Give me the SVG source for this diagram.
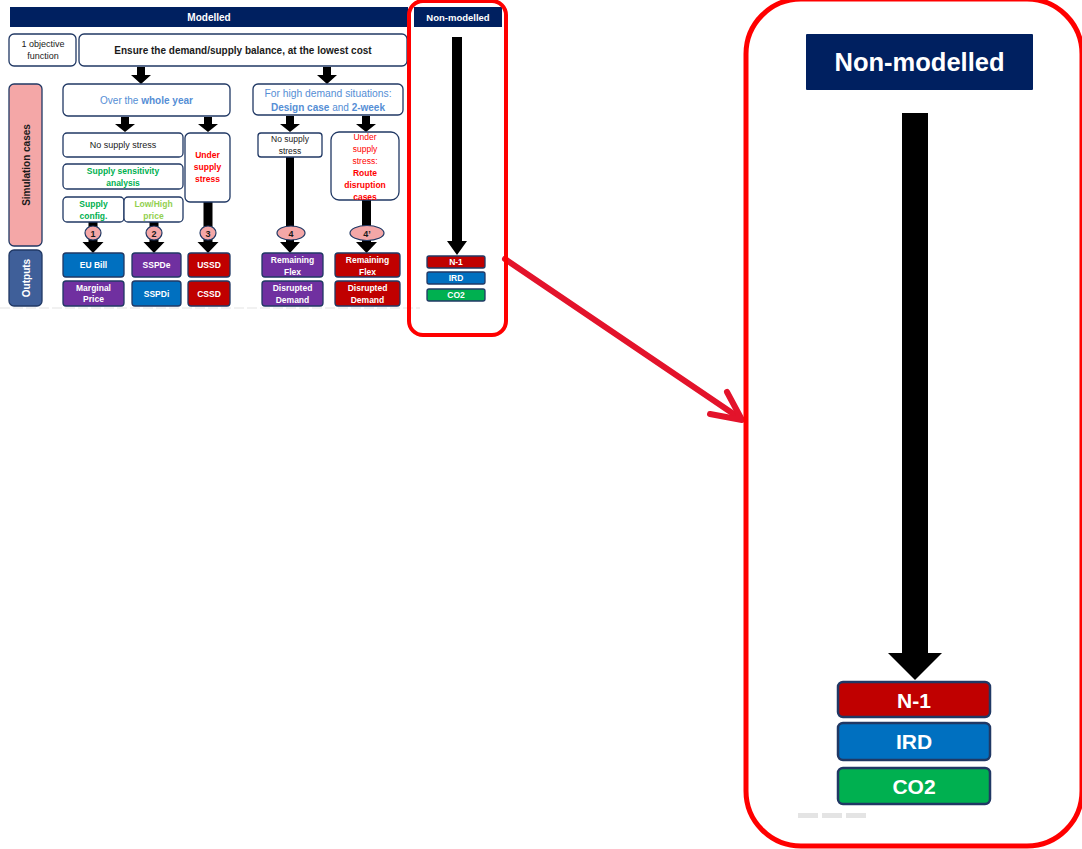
<svg xmlns="http://www.w3.org/2000/svg" width="1082" height="849" viewBox="0 0 1082 849">
  <style>
    text { font-family: "Liberation Sans", Arial, sans-serif; text-anchor: middle; }
    .hdr { fill: #002060; }
    .hdrt { fill: #ffffff; font-weight: bold; }
    .box { fill: #ffffff; stroke: #203864; stroke-width: 1.3; }
    .dark { fill: #1a1a1a; }
    .lb { fill: #558ED5; }
    .b { font-weight: bold; }
    .grn { fill: #00B050; font-weight: bold; }
    .lgrn { fill: #92D050; font-weight: bold; }
    .red { fill: #FF0000; }
    .num { fill: #F4A7A7; stroke: #203864; stroke-width: 1.2; }
    .out { stroke: #203864; stroke-width: 1.3; }
    .blue { fill: #0070C0; }
    .purple { fill: #7030A0; }
    .crim { fill: #C00000; }
    .green { fill: #00B050; }
    .ot { fill: #ffffff; font-weight: bold; font-size: 8.5px; }
    .arr { fill: #000000; }
    .frame { fill: none; stroke: #FF0000; }
  </style>

  <!-- headers -->
  <g id="hdr-modelled">
    <rect class="hdr" x="10" y="7" width="398" height="20"/>
    <text class="hdrt" x="209" y="21" font-size="10">Modelled</text>
  </g>
  <g id="hdr-nonmodelled">
    <rect class="hdr" x="414" y="7" width="88" height="20"/>
    <text class="hdrt" x="458" y="21" font-size="9.5">Non-modelled</text>
  </g>

  <!-- row labels -->
  <g id="lbl-objective">
    <rect class="box" x="9" y="34" width="67" height="32" rx="5"/>
    <text class="dark" x="43" y="47" font-size="9">1 objective</text>
    <text class="dark" x="43" y="59" font-size="9">function</text>
  </g>
  <g id="lbl-simulation">
    <rect x="9" y="84" width="33" height="162" rx="5" fill="#F4A7A7" stroke="#203864" stroke-width="1.3"/>
    <text class="dark b" font-size="10" transform="translate(29.5 165) rotate(-90)">Simulation cases</text>
  </g>
  <g id="lbl-outputs">
    <rect x="9" y="250" width="33" height="56" rx="5" fill="#3F5F99" stroke="#203864" stroke-width="1.3"/>
    <text fill="#ffffff" class="b" font-size="10" transform="translate(29.5 278) rotate(-90)">Outputs</text>
  </g>

  <!-- objective -->
  <g id="objective">
    <rect class="box" x="79" y="34" width="328" height="32" rx="5"/>
    <text class="dark b" x="243" y="54" font-size="10">Ensure the demand/supply balance, at the lowest cost</text>
  </g>

  <!-- connectors (block arrows) -->
  <g id="connectors">
    <path class="arr" d="M137 67H145V75H151L141 84L131 75H137Z"/>
    <path class="arr" d="M323 67H331V75H337L327 84L317 75H323Z"/>
    <path class="arr" d="M121 117H129V124H135L125 132L115 124H121Z"/>
    <path class="arr" d="M204 117H212V124H218L208 132L198 124H204Z"/>
    <path class="arr" d="M286 116H294V124H300L290 132L280 124H286Z"/>
    <path class="arr" d="M362 116H370V124H376L366 132L356 124H362Z"/>
    <path class="arr" d="M88.5 222H97.5V242H103.5L93 253L82.5 242H88.5Z"/>
    <path class="arr" d="M149.5 222H158.5V242H164.5L154 253L143.5 242H149.5Z"/>
    <path class="arr" d="M203.5 202H212.5V242H218.5L208 253L197.5 242H203.5Z"/>
    <path class="arr" d="M286 157H294V242H300L290 253L280 242H286Z"/>
    <path class="arr" d="M362 200H371V242H377L366.5 253L356 242H362Z"/>
    <path class="arr" d="M452 37H462V241H467L457 255L447 241H452Z"/>
    <path class="arr" d="M902 113H928V653H942L915 680L888 653H902Z"/>
    <!-- call-out arrow to the enlarged view -->
    <g stroke="#E3132B" stroke-width="6" stroke-linecap="round" fill="none">
      <line x1="505" y1="259" x2="741" y2="419"/>
      <polyline points="710,414 742,420 727,392" stroke-linejoin="round"/>
    </g>
  </g>

  <!-- whole year branch -->
  <g id="whole-year">
    <rect class="box" x="63" y="84" width="167" height="32" rx="5"/>
    <text class="lb" x="146.5" y="104" font-size="10">Over the <tspan class="b">whole year</tspan></text>
  </g>
  <g id="no-stress-year">
    <rect class="box" x="63" y="133" width="120" height="24" rx="4"/>
    <text class="dark" x="123" y="148" font-size="9">No supply stress</text>
  </g>
  <g id="sensitivity">
    <rect class="box" x="63" y="164" width="120" height="25" rx="4"/>
    <text class="grn" x="123" y="174" font-size="8.5">Supply sensitivity</text>
    <text class="grn" x="123" y="186" font-size="8.5">analysis</text>
  </g>
  <g id="supply-config">
    <rect class="box" x="63" y="197" width="61" height="25" rx="4"/>
    <text class="grn" x="93.5" y="207" font-size="8.5">Supply</text>
    <text class="grn" x="93.5" y="219" font-size="8.5">config.</text>
  </g>
  <g id="low-high">
    <rect class="box" x="124" y="197" width="59" height="25" rx="4"/>
    <text class="lgrn" x="153.5" y="207" font-size="8.5">Low/High</text>
    <text class="lgrn" x="153.5" y="219" font-size="8.5">price</text>
  </g>
  <g id="under-stress-year">
    <rect class="box" x="185" y="133" width="45" height="69" rx="5"/>
    <text class="red b" x="207.5" y="158" font-size="8.5">Under</text>
    <text class="red b" x="207.5" y="170" font-size="8.5">supply</text>
    <text class="red b" x="207.5" y="182" font-size="8.5">stress</text>
  </g>

  <!-- high demand branch -->
  <g id="high-demand">
    <rect class="box" x="253" y="84" width="150" height="31" rx="5"/>
    <text class="lb" x="328" y="97" font-size="10.3">For high demand situations:</text>
    <text class="lb" x="328" y="111" font-size="10"><tspan class="b">Design case</tspan> and <tspan class="b">2-week</tspan></text>
  </g>
  <g id="no-stress-peak">
    <rect class="box" x="258" y="133" width="64" height="24" rx="3"/>
    <text class="dark" x="290" y="142" font-size="8.5">No supply</text>
    <text class="dark" x="290" y="154" font-size="8.5">stress</text>
  </g>
  <g id="route-disruption">
    <rect class="box" x="331" y="132" width="68" height="68" rx="8"/>
    <text class="red" x="365" y="140" font-size="8.5">Under</text>
    <text class="red" x="365" y="152" font-size="8.5">supply</text>
    <text class="red" x="365" y="164" font-size="8.5">stress:</text>
    <text class="red b" x="365" y="176" font-size="8.5">Route</text>
    <text class="red b" x="365" y="188" font-size="8.5">disruption</text>
    <text class="red b" x="365" y="200" font-size="8.5">cases</text>
  </g>

  <!-- case numbers -->
  <g id="case-1">
    <ellipse class="num" cx="93" cy="233" rx="8" ry="7"/>
    <text class="dark b" x="93" y="236.5" font-size="9">1</text>
  </g>
  <g id="case-2">
    <ellipse class="num" cx="154" cy="233" rx="8" ry="7"/>
    <text class="dark b" x="154" y="236.5" font-size="9">2</text>
  </g>
  <g id="case-3">
    <ellipse class="num" cx="208" cy="233" rx="8" ry="7"/>
    <text class="dark b" x="208" y="236.5" font-size="9">3</text>
  </g>
  <g id="case-4">
    <ellipse class="num" cx="291" cy="233" rx="14" ry="7"/>
    <text class="dark b" x="291" y="236.5" font-size="9">4</text>
  </g>
  <g id="case-4b">
    <ellipse class="num" cx="367" cy="233" rx="17" ry="7.5"/>
    <text class="dark b" x="367" y="236.5" font-size="9">4’</text>
  </g>

  <!-- outputs -->
  <g id="out-eubill">
    <rect class="out blue" x="63" y="253" width="61" height="24" rx="3"/>
    <text class="ot" x="93.5" y="268">EU Bill</text>
  </g>
  <g id="out-marginal">
    <rect class="out purple" x="63" y="281" width="61" height="25" rx="3"/>
    <text class="ot" x="93.5" y="291">Marginal</text>
    <text class="ot" x="93.5" y="302">Price</text>
  </g>
  <g id="out-sspde">
    <rect class="out purple" x="132" y="253" width="49" height="24" rx="3"/>
    <text class="ot" x="156.5" y="268">SSPDe</text>
  </g>
  <g id="out-sspdi">
    <rect class="out blue" x="132" y="281" width="49" height="25" rx="3"/>
    <text class="ot" x="156.5" y="296.5">SSPDi</text>
  </g>
  <g id="out-ussd">
    <rect class="out crim" x="188" y="253" width="42" height="24" rx="3"/>
    <text class="ot" x="209" y="268">USSD</text>
  </g>
  <g id="out-cssd">
    <rect class="out crim" x="188" y="281" width="42" height="25" rx="3"/>
    <text class="ot" x="209" y="296.5">CSSD</text>
  </g>
  <g id="out-flex">
    <rect class="out purple" x="262" y="253" width="61" height="24" rx="3"/>
    <text class="ot" x="292.5" y="263">Remaining</text>
    <text class="ot" x="292.5" y="274.5">Flex</text>
  </g>
  <g id="out-disrupted">
    <rect class="out purple" x="262" y="281" width="61" height="25" rx="3"/>
    <text class="ot" x="292.5" y="291">Disrupted</text>
    <text class="ot" x="292.5" y="302.5">Demand</text>
  </g>
  <g id="out-flex-route">
    <rect class="out crim" x="335" y="253" width="65" height="24" rx="3"/>
    <text class="ot" x="367.5" y="263">Remaining</text>
    <text class="ot" x="367.5" y="274.5">Flex</text>
  </g>
  <g id="out-disrupted-route">
    <rect class="out crim" x="335" y="281" width="65" height="25" rx="3"/>
    <text class="ot" x="367.5" y="291">Disrupted</text>
    <text class="ot" x="367.5" y="302.5">Demand</text>
  </g>

  <!-- non-modelled indicators -->
  <g id="ind-n1">
    <rect class="out crim" x="427" y="256" width="58" height="12" rx="2"/>
    <text class="ot" x="456" y="265" font-size="8">N-1</text>
  </g>
  <g id="ind-ird">
    <rect class="out blue" x="427" y="272" width="58" height="12" rx="2"/>
    <text class="ot" x="456" y="281" font-size="8">IRD</text>
  </g>
  <g id="ind-co2">
    <rect class="out green" x="427" y="289" width="58" height="12" rx="2"/>
    <text class="ot" x="456" y="298" font-size="8">CO2</text>
  </g>

  <!-- faint baseline under outputs -->
  <line x1="0" y1="308" x2="420" y2="308" stroke="#e4e4e4" stroke-width="1.2" stroke-dasharray="10 3"/>

  <!-- highlight frame -->
  <rect id="frame-small" class="frame" x="409" y="1" width="97" height="334" rx="14" stroke-width="4"/>

  <!-- enlarged view of the non-modelled column -->
  <g id="zoom-view">
    <rect class="frame" x="746" y="-1" width="336" height="847" rx="55" stroke-width="5"/>
    <rect class="hdr" x="806" y="34" width="227" height="56" rx="1"/>
    <text class="hdrt" x="919.5" y="71" font-size="25.5">Non-modelled</text>
    <g id="zoom-n1">
      <rect x="838" y="682" width="152" height="35" rx="5" fill="#C00000" stroke="#203864" stroke-width="2.5"/>
      <text class="hdrt" x="914" y="707.5" font-size="21">N-1</text>
    </g>
    <g id="zoom-ird">
      <rect x="838" y="723" width="152" height="37" rx="5" fill="#0070C0" stroke="#203864" stroke-width="2.5"/>
      <text class="hdrt" x="914" y="749" font-size="21">IRD</text>
    </g>
    <g id="zoom-co2">
      <rect x="838" y="768" width="152" height="36" rx="5" fill="#00B050" stroke="#203864" stroke-width="2.5"/>
      <text class="hdrt" x="914" y="793.5" font-size="21">CO2</text>
    </g>
    <line x1="798" y1="815.5" x2="870" y2="815.5" stroke="#e4e4e4" stroke-width="5" stroke-dasharray="20 4"/>
  </g>
</svg>
